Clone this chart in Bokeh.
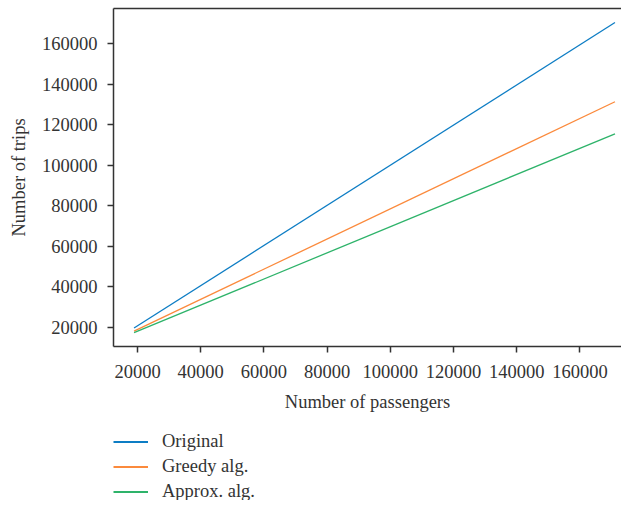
from bokeh.plotting import figure
from bokeh.models import Legend, LegendItem, Range1d, FixedTicker, NumeralTickFormatter, LinearAxis
from bokeh.layouts import column
from bokeh.embed import file_html
from bokeh.resources import INLINE

passengers = [18900, 171100]
original = [19700, 170400]
greedy = [18200, 131300]
approx = [17400, 115500]
series_names = ["Original", "Greedy alg.", "Approx. alg."]
colors = ["#0d7dc4", "#fb8a3c", "#2eb36a"]
x_ticks = [20000, 40000, 60000, 80000, 100000, 120000, 140000, 160000]
y_ticks = [20000, 40000, 60000, 80000, 100000, 120000, 140000, 160000]

FONT = "Liberation Serif"
TXT = "#333333"
FS = "18.5px"

p = figure(width=621, height=420, output_backend="svg", toolbar_location=None,
           x_range=Range1d(12400, 173160), y_range=Range1d(10600, 177300),
           min_border_left=113, min_border_right=0, min_border_top=8, min_border_bottom=74)

p.grid.visible = False
p.outline_line_color = None
p.background_fill_color = "white"
p.border_fill_color = "white"

for ys, c in zip([original, greedy, approx], colors):
    p.line(passengers, ys, line_color=c, line_width=1.3)

for ax in (p.xaxis[0], p.yaxis[0]):
    ax.axis_line_color = "#333333"
    ax.axis_line_width = 1.5
    ax.major_tick_line_color = "#333333"
    ax.major_tick_line_width = 1.5
    ax.major_tick_out = 6
    ax.major_tick_in = 0
    ax.minor_tick_line_color = None
    ax.major_label_text_font = FONT
    ax.major_label_text_font_size = FS
    ax.major_label_text_color = TXT
    ax.axis_label_text_font = FONT
    ax.axis_label_text_font_size = FS
    ax.axis_label_text_font_style = "normal"
    ax.axis_label_text_color = TXT
    ax.formatter = NumeralTickFormatter(format="0")

p.xaxis[0].ticker = FixedTicker(ticks=x_ticks)
p.yaxis[0].ticker = FixedTicker(ticks=y_ticks)
p.xaxis[0].axis_label = "Number of passengers"
p.yaxis[0].axis_label = "Number of trips"
p.xaxis[0].major_label_standoff = 12
p.yaxis[0].major_label_standoff = 10
p.xaxis[0].axis_label_standoff = 11
p.yaxis[0].axis_label_standoff = 10

top_axis = LinearAxis(axis_line_color="#333333", axis_line_width=1.5,
                      major_tick_line_color=None, minor_tick_line_color=None,
                      major_label_text_font_size="0px", ticker=FixedTicker(ticks=[]))
p.add_layout(top_axis, "above")

# legend panel (same series, drawn outside this panel's visible range)
p2 = figure(width=621, height=80, output_backend="svg", toolbar_location=None,
            x_range=Range1d(0, 1), y_range=Range1d(0, 1),
            x_axis_location=None, y_axis_location=None,
            min_border_left=0, min_border_right=0, min_border_top=0, min_border_bottom=0)
p2.grid.visible = False
p2.outline_line_color = None
p2.background_fill_color = "white"
p2.border_fill_color = "white"
leg_renderers = [p2.line(passengers, ys, line_color=c, line_width=2)
                 for ys, c in zip([original, greedy, approx], colors)]

legend = Legend(items=[LegendItem(label=n, renderers=[r]) for n, r in zip(series_names, leg_renderers)],
                location=(0, -2), orientation="vertical")
legend.border_line_color = None
legend.background_fill_alpha = 0
legend.padding = 0
legend.margin = 0
legend.spacing = 4
legend.glyph_width = 35
legend.glyph_height = 19
legend.label_height = 19
legend.label_standoff = 14
legend.label_text_font = FONT
legend.label_text_font_size = FS
legend.label_text_color = TXT
p2.add_layout(legend, "center")

layout = column(p, p2, spacing=0)
open("out.html", "w").write(file_html(layout, INLINE))
